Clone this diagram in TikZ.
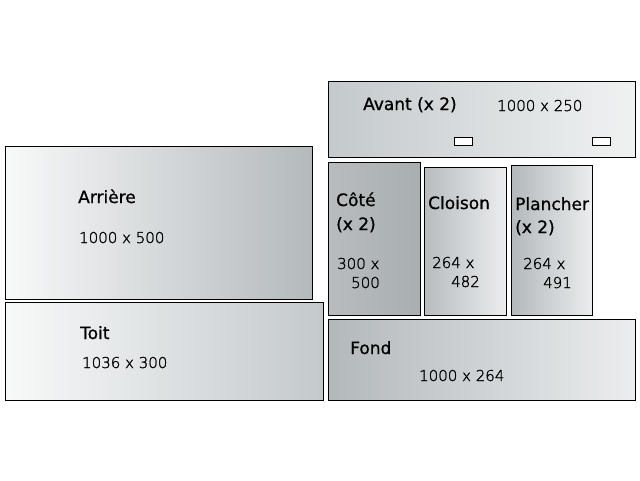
\documentclass[tikz,border=0pt]{standalone}
\usepackage{fontspec}
\setmainfont{DejaVu Sans}
\newfontfamily\labfont{DejaVu Sans}[FakeBold=0.9]
\newfontfamily\numfont{DejaVu Sans ExtraLight}[FakeBold=1.5]
\definecolor{gA}{HTML}{F8F9F9}
\definecolor{gB}{HTML}{B4B9BC}
\definecolor{gC}{HTML}{C4C9CC}
\definecolor{gD}{HTML}{F0F2F2}
\definecolor{gE}{HTML}{B8BCBF}
\definecolor{gF}{HTML}{A9AEB1}
\definecolor{gG}{HTML}{B3B8BB}
\definecolor{gH}{HTML}{EBEDEE}
\begin{document}
\begin{tikzpicture}[x=1pt,y=-1pt,
  panel/.style={draw=black,line width=1pt},
  hole/.style={draw=black,fill=white,line width=1pt},
  lbl/.style={anchor=base west,inner sep=0pt,font=\labfont\fontsize{17}{20}\selectfont},
  dim/.style={anchor=base west,inner sep=0pt,font=\numfont\fontsize{15}{18}\selectfont}]
\useasboundingbox (0,0) rectangle (640,480);
% panels
\path[panel,left color=gC,right color=gD] (328,81) rectangle (635,157);
\path[panel,left color=gA,right color=gB] (5,146) rectangle (312,299);
\path[panel,left color=gA,right color=gC] (5,302) rectangle (323,400);
\path[panel,left color=gE,right color=gF] (328,162) rectangle (420,315);
\path[panel,left color=gE,right color=gH] (424,167) rectangle (506,315);
\path[panel,left color=gG,right color=gH] (511,165) rectangle (592,315);
\path[panel,left color=gG,right color=gH] (328,319) rectangle (635,400);
% holes
\draw[hole] (454.5,137) rectangle (472.5,145);
\draw[hole] (592.5,137) rectangle (610.5,145);
% labels
\node[lbl] (avant) at (363,110) {Avant (x 2)};
\node[dim] (avantd) at (497,111) {1000 x 250};
\node[lbl] (arr) at (78,203) {Arrière};
\node[dim] (arrd) at (79,243) {1000 x 500};
\node[lbl] (cote1) at (336,206) {Côté};
\node[lbl] (cote2) at (336,230) {(x 2)};
\node[dim] (coted1) at (337,269) {300 x};
\node[dim] (coted2) at (351,288) {500};
\node[lbl] (clo) at (428,209) {Cloison};
\node[dim] (clod1) at (432,268) {264 x};
\node[dim] (clod2) at (451,287) {482};
\node[lbl] (pl1) at (515,210) {Plancher};
\node[lbl] (pl2) at (515,233) {(x 2)};
\node[dim] (pld1) at (523,269) {264 x};
\node[dim] (pld2) at (543,288) {491};
\node[lbl] (toit) at (80,339) {Toit};
\node[dim] (toitd) at (82,368) {1036 x 300};
\node[lbl] (fond) at (350,354) {Fond};
\node[dim] (fondd) at (419,381) {1000 x 264};
\end{tikzpicture}
\end{document}
